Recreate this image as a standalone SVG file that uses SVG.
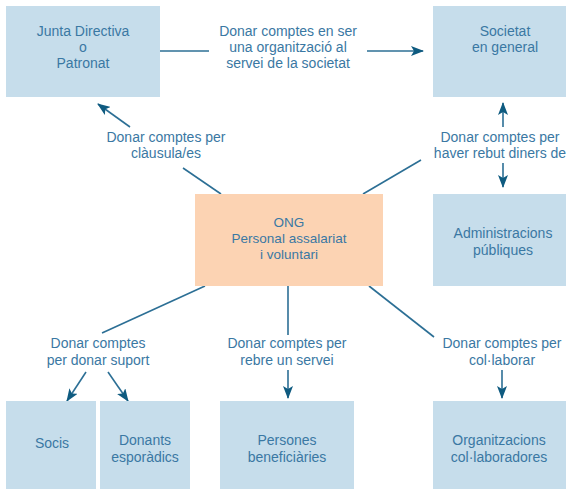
<svg xmlns="http://www.w3.org/2000/svg" width="566" height="489" viewBox="0 0 566 489">
<style>
.box{fill:#c6ddeb}
.ong{fill:#fcd3b3}
text{font-family:"Liberation Sans",Arial,sans-serif;font-size:14px;fill:#3a78a3;text-anchor:middle}
.ln{stroke:#2c6f95;stroke-width:1.6;fill:none}
.ar{stroke:#2c6f95;stroke-width:1.6;fill:none;marker-end:url(#ah)}
</style>
<defs>
<marker id="ah" markerWidth="14" markerHeight="10" refX="12" refY="5" orient="auto" markerUnits="userSpaceOnUse">
<path d="M0,0 L13,5 L0,10 L3,5 z" fill="#0f5b80"/>
</marker>
</defs>
<rect width="566" height="489" fill="#ffffff"/>
<g id="connectors">
<line class="ln" x1="160" y1="51" x2="209" y2="51"/>
<line class="ar" x1="367" y1="51" x2="423" y2="51"/>
<line class="ar" x1="130" y1="127" x2="98" y2="104"/>
<line class="ln" x1="183" y1="168" x2="221" y2="194"/>
<line class="ln" x1="363" y1="194" x2="421" y2="160"/>
<line class="ar" x1="503" y1="127" x2="503" y2="103"/>
<line class="ar" x1="503" y1="163" x2="503" y2="187"/>
<line class="ln" x1="205" y1="286" x2="102" y2="333"/>
<line class="ln" x1="288" y1="286" x2="288" y2="335"/>
<line class="ln" x1="369" y1="286" x2="434" y2="337"/>
<line class="ar" x1="86" y1="372" x2="67" y2="401"/>
<line class="ar" x1="108" y1="372" x2="128" y2="401"/>
<line class="ar" x1="288" y1="370" x2="288" y2="398"/>
<line class="ar" x1="502" y1="370" x2="502" y2="398"/>
</g>
<g id="junta">
<rect class="box" x="6" y="6" width="154" height="91"/>
<text x="83" y="36">Junta Directiva</text>
<text x="83" y="52">o</text>
<text x="83" y="68">Patronat</text>
</g>
<g id="label-societat">
<text x="288" y="36">Donar comptes en ser</text>
<text x="288" y="52">una organització al</text>
<text x="288" y="68">servei de la societat</text>
</g>
<g id="societat">
<rect class="box" x="433" y="6" width="140" height="91"/>
<text x="505" y="36">Societat</text>
<text x="505" y="52">en general</text>
</g>
<g id="label-clausula">
<text x="166" y="142">Donar comptes per</text>
<text x="166" y="158">clàusula/es</text>
</g>
<g id="label-diners">
<text x="500" y="142">Donar comptes per</text>
<text x="500" y="158">haver rebut diners de</text>
</g>
<g id="ong">
<rect class="ong" x="195" y="194" width="188" height="92"/>
<text x="289" y="227" style="font-size:13.5px">ONG</text>
<text x="289" y="243" style="font-size:13.5px">Personal assalariat</text>
<text x="289" y="259" style="font-size:13.5px">i voluntari</text>
</g>
<g id="administracions">
<rect class="box" x="433" y="194" width="140" height="92"/>
<text x="503" y="238">Administracions</text>
<text x="503" y="255">públiques</text>
</g>
<g id="label-suport">
<text x="98" y="348">Donar comptes</text>
<text x="98" y="365">per donar suport</text>
</g>
<g id="label-servei">
<text x="287" y="348">Donar comptes per</text>
<text x="287" y="365">rebre un servei</text>
</g>
<g id="label-collaborar">
<text x="502" y="348">Donar comptes per</text>
<text x="502" y="365">col·laborar</text>
</g>
<g id="socis">
<rect class="box" x="6" y="401" width="90" height="92"/>
<text x="52" y="448">Socis</text>
</g>
<g id="donants">
<rect class="box" x="100" y="401" width="90" height="92"/>
<text x="145" y="445">Donants</text>
<text x="145" y="462">esporàdics</text>
</g>
<g id="persones">
<rect class="box" x="220" y="401" width="134" height="92"/>
<text x="287" y="445">Persones</text>
<text x="287" y="462">beneficiàries</text>
</g>
<g id="organitzacions">
<rect class="box" x="433" y="401" width="140" height="92"/>
<text x="499" y="445">Organitzacions</text>
<text x="499" y="462">col·laboradores</text>
</g>
</svg>
